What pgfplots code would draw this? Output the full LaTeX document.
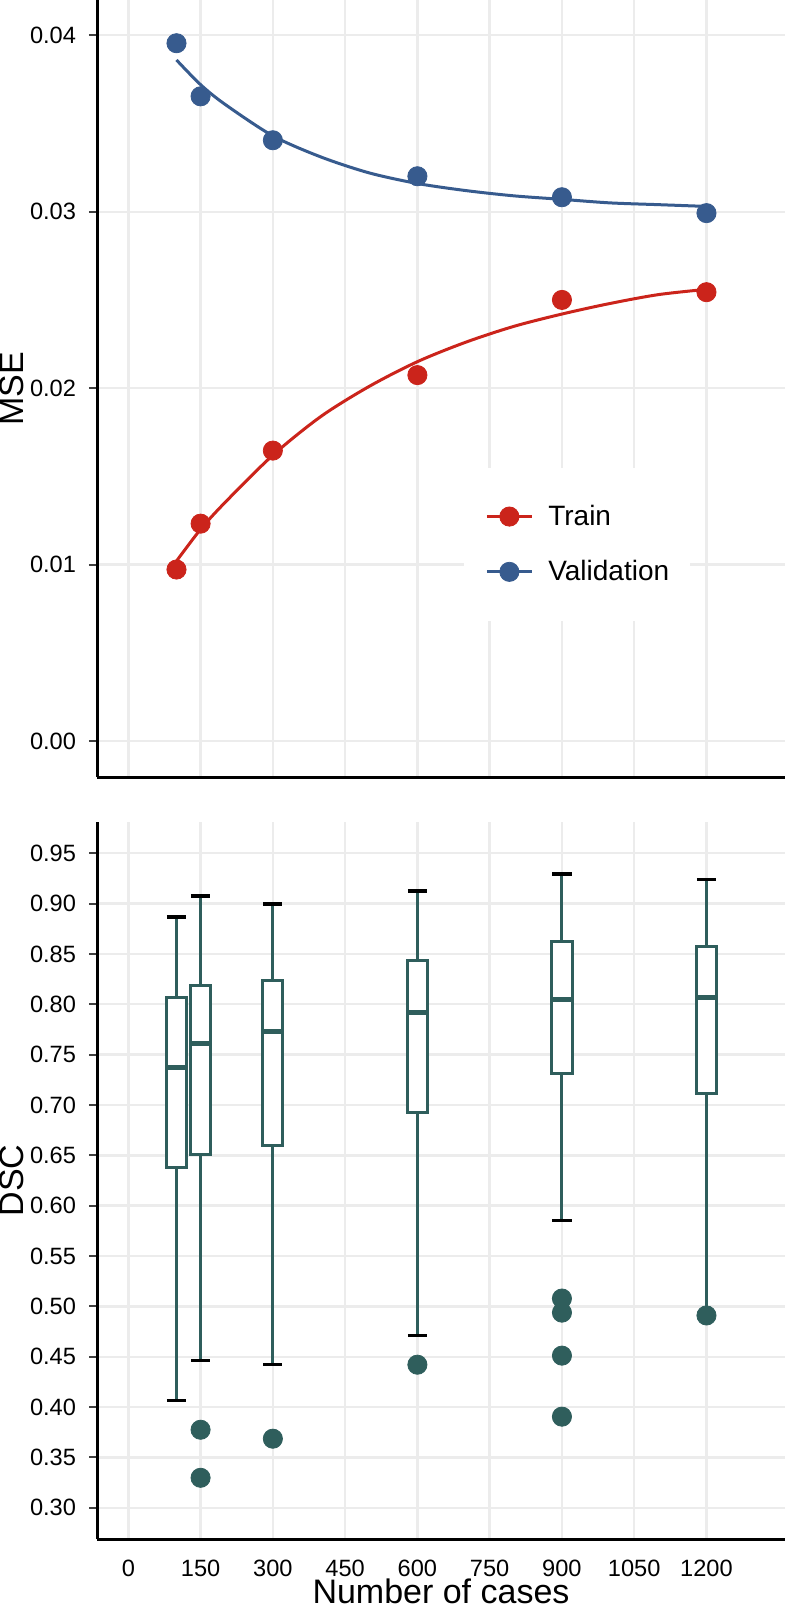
\documentclass[border=0pt]{standalone}
\usepackage{pgfplots}
\pgfplotsset{compat=1.18}
\usepgfplotslibrary{statistics}
\usepackage{fontspec}
\setmainfont{Liberation Sans}
\definecolor{trainred}{RGB}{203,36,27}
\definecolor{valblue}{RGB}{55,91,142}
\definecolor{tealc}{RGB}{47,94,92}
\definecolor{gridc}{RGB}{236,236,236}
\pgfplotsset{
  myaxis/.style={
    scale only axis,
    width=344pt,
    axis x line*=bottom, axis y line*=left,
    axis line style={line width=1.5pt,-,black},
    grid=major,
    major grid style={gridc, line width=1.2pt},
    tick align=outside,
    major tick length=4pt,
    ytick style={line width=1pt, black!75},
    xtick style={draw=none},
    scaled y ticks=false,
    ticklabel style={font=\fontsize{11.8}{13}\selectfont},
    /pgf/number format/assume math mode=true,
    yticklabel style={xshift=-3pt, /pgf/number format/fixed, /pgf/number format/fixed zerofill, /pgf/number format/precision=2},
    xticklabel style={yshift=-3pt},
    every axis y label/.style={at={(axis description cs:-0.1235,0.5)}, rotate=90, anchor=center, font=\fontsize{17}{19}\selectfont},
    every axis x label/.style={at={(axis description cs:0.5,0)}, anchor=center, inner sep=0.5pt, yshift=-26pt, font=\fontsize{17}{19}\selectfont},
  }
}
\begin{document}
\begin{tikzpicture}
\begin{axis}[myaxis,
  at={(48.5pt,0pt)}, anchor=north west,
  height=388.5pt,
  xmin=-65, xmax=1363,
  xtick={0,150,...,1200},
  ymin=-0.00204, ymax=0.042,
  ytick={0,0.01,0.02,0.03,0.04},
  xticklabels={},
  ylabel={MSE},
  legend image code/.code={
    \draw[#1, line width=1.5pt] (0pt,0pt) -- (22.5pt,0pt);
    \draw[#1, mark=*, mark size=4.8pt] plot coordinates {(11.25pt,0pt)};
    \path (30.5pt,0pt);
  },
  legend style={at={(0.5334,0.3983)}, anchor=north west, fill=white, draw=none,
    font=\fontsize{14}{16}\selectfont, row sep=12pt, inner xsep=10.5pt, inner ysep=16.5pt,
    nodes={inner xsep=0pt},
    legend cell align=left},
]
\addplot[trainred, line width=1.5pt, smooth, forget plot] coordinates {
(100,0.0102)(150,0.0120)(200,0.0135)(300,0.0162)(400,0.0184)(500,0.0201)(600,0.0215)(700,0.0226)(800,0.0235)(900,0.0242)(1000,0.0248)(1100,0.0253)(1200,0.0256)};
\addplot[valblue, line width=1.5pt, smooth, forget plot] coordinates {
(100,0.0386)(150,0.0372)(200,0.0361)(300,0.0343)(400,0.0331)(500,0.0322)(600,0.0316)(700,0.0312)(800,0.0309)(900,0.0307)(1000,0.0305)(1100,0.0304)(1200,0.0303)};
\addplot[trainred, only marks, mark=*, mark size=4.8pt, forget plot] coordinates {
(100,0.00972)(150,0.01232)(300,0.01646)(600,0.02074)(900,0.02500)(1200,0.02544)};
\addplot[valblue, only marks, mark=*, mark size=4.8pt, forget plot] coordinates {
(100,0.03955)(150,0.03654)(300,0.03405)(600,0.03201)(900,0.03082)(1200,0.02992)};
\addlegendimage{trainred, fill=trainred}
\addlegendentry{Train}
\addlegendimage{valblue, fill=valblue}
\addlegendentry{Validation}
\end{axis}

% bottom panel: x measured in units of 150 cases
\begin{axis}[myaxis,
  at={(48.5pt,-411pt)}, anchor=north west,
  height=358.5pt,
  xmin=-0.4333, xmax=9.0867,
  xtick={0,1,2,3,4,5,6,7,8},
  xticklabels={0,150,300,450,600,750,900,1050,1200},
  ymin=0.269, ymax=0.981,
  ytick={0.30,0.35,0.40,0.45,0.50,0.55,0.60,0.65,0.70,0.75,0.80,0.85,0.90,0.95},
  xlabel={Number of cases},
  ylabel={DSC},
  boxplot/draw direction=y,
  boxplot/every box/.style={draw=tealc, line width=1.5pt, fill=white},
  boxplot/every median/.style={draw=tealc, line width=2.6pt},
  boxplot/box extend=0.28,
  boxplot/whisker extend=0.2667,
  boxplot/draw/lower whisker/.code={
    \draw[tealc, line width=1.5pt] (boxplot box cs:\pgfplotsboxplotvalue{lower whisker},0.5) -- (boxplot box cs:\pgfplotsboxplotvalue{lower quartile},0.5);
    \draw[black, line width=1.8pt] (boxplot whisker cs:\pgfplotsboxplotvalue{lower whisker},0) -- (boxplot whisker cs:\pgfplotsboxplotvalue{lower whisker},1);
  },
  boxplot/draw/upper whisker/.code={
    \draw[tealc, line width=1.5pt] (boxplot box cs:\pgfplotsboxplotvalue{upper whisker},0.5) -- (boxplot box cs:\pgfplotsboxplotvalue{upper quartile},0.5);
    \draw[black, line width=1.8pt] (boxplot whisker cs:\pgfplotsboxplotvalue{upper whisker},0) -- (boxplot whisker cs:\pgfplotsboxplotvalue{upper whisker},1);
  },
]
\addplot[tealc, boxplot prepared={draw position=0.6667, lower whisker=0.4064, lower quartile=0.6379, median=0.7373, upper quartile=0.8069, upper whisker=0.8864}] coordinates {};
\addplot[tealc, boxplot prepared={draw position=1, lower whisker=0.4461, lower quartile=0.6509, median=0.7611, upper quartile=0.8188, upper whisker=0.9073}] coordinates {};
\addplot[tealc, boxplot prepared={draw position=2, lower whisker=0.4421, lower quartile=0.6599, median=0.7731, upper quartile=0.8238, upper whisker=0.8993}] coordinates {};
\addplot[tealc, boxplot prepared={draw position=4, lower whisker=0.4710, lower quartile=0.6925, median=0.7919, upper quartile=0.8436, upper whisker=0.9122}] coordinates {};
\addplot[tealc, boxplot prepared={draw position=6, lower whisker=0.5853, lower quartile=0.7311, median=0.8049, upper quartile=0.8625, upper whisker=0.9291}] coordinates {};
\addplot[tealc, boxplot prepared={draw position=8, lower whisker=0.4910, lower quartile=0.7112, median=0.8069, upper quartile=0.8575, upper whisker=0.9241}] coordinates {};
\addplot[tealc, only marks, mark=*, mark size=4.8pt] coordinates {
(1,0.3775)(1,0.3298)(2,0.3686)(4,0.4421)(6,0.5078)(6,0.4938)(6,0.4511)(6,0.3905)(8,0.4910)};
\end{axis}
\pgfresetboundingbox
\path[use as bounding box] (0,0) rectangle (392.5pt,-804.5pt);
\end{tikzpicture}
\end{document}
